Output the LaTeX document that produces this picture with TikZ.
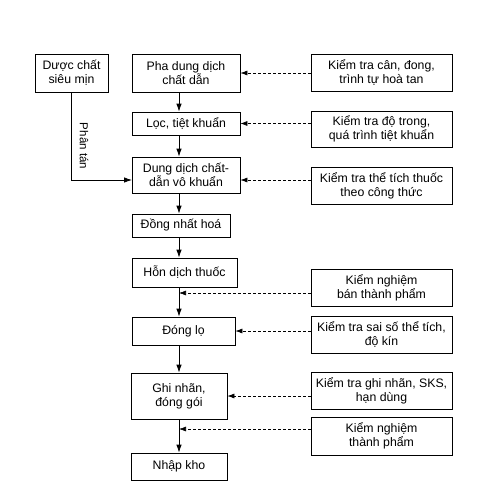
\documentclass[tikz,border=0pt]{standalone}
\usepackage{fontspec}
\setmainfont{Liberation Sans}
\usetikzlibrary{arrows.meta}

\begin{document}
\begin{tikzpicture}[x=1pt, y=-1pt,
    box/.style={draw, line width=0.8pt, inner sep=0pt, align=center,
                font=\fontsize{12.3}{14}\selectfont},
    flow/.style={-{Latex[length=8pt,width=5.5pt]}, line width=0.8pt},
    qc/.style={-{Latex[length=7pt,width=5pt]}, line width=0.6pt,
               dash pattern=on 3pt off 2pt}]
    \useasboundingbox (0,0) rectangle (492,488);
    % quy trình chính
    \node[box, minimum width=73pt, minimum height=38pt] (dc) at (71.5,73) {Dược chất\\siêu mịn};
    \node[box, minimum width=108pt, minimum height=38pt] (pha) at (186,73) {Pha dung dịch\\chất dẫn};
    \node[box, minimum width=108pt, minimum height=23pt] (loc) at (186,123.5) {Lọc, tiệt khuẩn};
    \node[box, minimum width=108pt, minimum height=36pt] (dd) at (186,175) {Dung dịch chất-\\dẫn vô khuẩn};
    \node[box, minimum width=98pt, minimum height=23pt] (dn) at (181,225.5) {Đồng nhất hoá};
    \node[box, minimum width=105pt, minimum height=29pt] (hd) at (184.5,272.5) {Hỗn dịch thuốc};
    \node[box, minimum width=103pt, minimum height=28pt] (dl) at (183.5,331) {Đóng lọ};
    \node[box, minimum width=96pt, minimum height=46pt] (gn) at (179,396) {Ghi nhãn,\\đóng gói};
    \node[box, minimum width=96pt, minimum height=27pt] (nk) at (179,466.5) {Nhập kho};
    % kiểm tra
    \node[box, minimum width=141pt, minimum height=37pt] (kt1) at (381.5,72.5) {Kiểm tra cân, đong,\\trình tự hoà tan};
    \node[box, minimum width=141pt, minimum height=36pt] (kt2) at (381.5,129) {Kiểm tra độ trong,\\quá trình tiệt khuẩn};
    \node[box, minimum width=141pt, minimum height=37pt] (kt3) at (381.5,185.5) {Kiểm tra thể tích thuốc\\theo công thức};
    \node[box, minimum width=141pt, minimum height=37pt] (kt4) at (381.5,287.5) {Kiểm nghiệm\\bán thành phẩm};
    \node[box, minimum width=141pt, minimum height=37pt] (kt5) at (381.5,334.5) {Kiểm tra sai số thể tích,\\độ kín};
    \node[box, minimum width=141pt, minimum height=37pt] (kt6) at (381.5,390.5) {Kiểm tra ghi nhãn, SKS,\\hạn dùng};
    \node[box, minimum width=141pt, minimum height=38pt] (kt7) at (381.5,436) {Kiểm nghiệm\\thành phẩm};
    \node[font=\fontsize{11.5}{13}\selectfont, rotate=-90] (pt) at (84,146) {Phân tán};
    \coordinate (sp) at (179,0);
    \coordinate (in3) at (132,180);
    \coordinate (j1) at (179,293);
    \coordinate (j2) at (179,429);
    % mũi tên chính
    \draw[flow] (pha.south -| sp) -- (loc.north -| sp);
    \draw[flow] (loc.south -| sp) -- (dd.north -| sp);
    \draw[flow] (dd.south -| sp) -- (dn.north -| sp);
    \draw[flow] (dn.south -| sp) -- (hd.north -| sp);
    \draw[flow] (hd.south -| sp) -- (dl.north -| sp);
    \draw[flow] (dl.south -| sp) -- (gn.north -| sp);
    \draw[flow] (gn.south -| sp) -- (nk.north -| sp);
    \draw[flow] (dc.south) |- (in3);
    % mũi tên kiểm tra
    \draw[qc] (pha -| kt1.west) -- (pha.east);
    \draw[qc] (loc -| kt2.west) -- (loc.east);
    \draw[qc] (kt3.west |- in3) -- (dd.east |- in3);
    \draw[qc] (kt4.west |- j1) -- (j1);
    \draw[qc] (dl -| kt5.west) -- (dl.east);
    \draw[qc] (gn -| kt6.west) -- (gn.east);
    \draw[qc] (kt7.west |- j2) -- (j2);
\end{tikzpicture}
\end{document}
